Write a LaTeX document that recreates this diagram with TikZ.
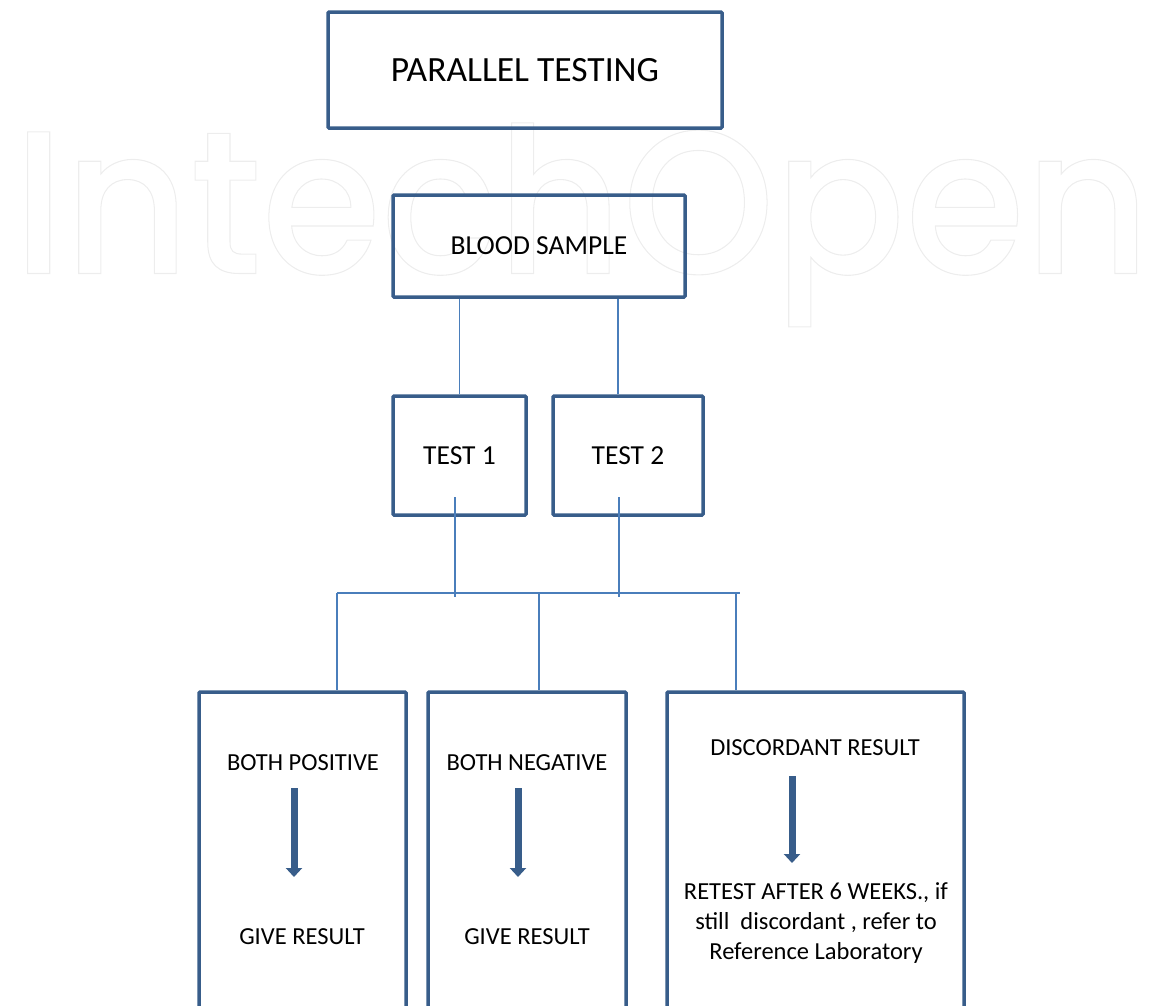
\documentclass[tikz,border=0pt]{standalone}
\usepackage{fontspec}
\usepackage{graphicx}
\setmainfont{Carlito}
\newfontfamily\wmfont{Poppins Medium}
\usetikzlibrary{arrows.meta}
\definecolor{boxblue}{HTML}{385D8A}
\definecolor{lineblue}{HTML}{4A7EBB}
\definecolor{wmgray}{HTML}{EDEDED}
\begin{document}
\begin{tikzpicture}[x=1pt,y=-1pt,
  box/.style={draw=boxblue, line width=3.5pt, inner sep=0pt, rounded corners=1pt},
  conn/.style={draw=lineblue, line width=1.6pt},
  lbl/.style={font=\fontsize{27.5}{30}\selectfont, text=black, inner sep=0pt, align=center},
  slbl/.style={font=\fontsize{24.5}{30}\selectfont, text=black, inner sep=0pt, align=center},
  blockarrow/.style={draw=boxblue, line width=7pt, -{Triangle[width=16pt,length=9pt]}}
]
\useasboundingbox (0,0) rectangle (1151,1005);
\clip (0,0) rectangle (1151,1005);
% watermark
\node[anchor=south west, text=wmgray, inner sep=0pt] (wm) at (13,327)
  {\resizebox*{1137pt}{204pt}{\wmfont\fontsize{226}{226}\selectfont\special{pdf:literal 1 Tr 1.2 w 0.93 G}IntechOpen\special{pdf:literal 0 Tr}}};
% boxes
\node[box, lbl, font=\fontsize{35.5}{36}\selectfont, minimum width=394pt, minimum height=116pt] (title) at (525,70) {PARALLEL TESTING};
\node[box, lbl, minimum width=292pt, minimum height=102pt] (bs) at (539,246) {BLOOD SAMPLE};
\node[box, lbl, minimum width=133pt, minimum height=119pt] (t1) at (459.5,455.5) {TEST 1};
\node[box, lbl, minimum width=150pt, minimum height=119pt] (t2) at (628,455.5) {TEST 2};
\node[box, minimum width=207pt, minimum height=338pt] (b1) at (302.5,861) {};
\node[box, minimum width=198pt, minimum height=338pt] (b2) at (527,861) {};
\node[box, minimum width=297pt, minimum height=338pt] (b3) at (815.5,861) {};
% texts in bottom boxes
\node[slbl] (bp) at (303,763) {BOTH POSITIVE};
\node[slbl] (bpr) at (302,937) {GIVE RESULT};
\node[slbl] (bn) at (527,763) {BOTH NEGATIVE};
\node[slbl] (bnr) at (527,937) {GIVE RESULT};
\node[slbl] (dr) at (815,748) {DISCORDANT RESULT};
\node[slbl] (rt) at (816,923) {RETEST AFTER 6 WEEKS., if\\still\ \ discordant , refer to\\Reference Laboratory};
% connectors
\coordinate (t1in) at (455,497);
\coordinate (t2in) at (619,497);
\coordinate (busL) at (337,593);
\coordinate (busM) at (539,593);
\coordinate (busR3) at (736,593);
\coordinate (busR) at (740,593);
\draw[conn] (t1.north) -- (t1.north |- bs.south);
\draw[conn] ([xshift=-10pt]t2.north) -- ([xshift=-10pt]t2.north |- bs.south);
\draw[conn] (t1in) -- ([yshift=-4pt]t1in |- busL);
\draw[conn] (t2in) -- ([yshift=-4pt]t2in |- busL);
\draw[conn] (busL) -- (busR);
\draw[conn] (busL) -- (busL |- b1.north);
\draw[conn] (busM) -- (busM |- b2.north);
\draw[conn] (busR3) -- (busR3 |- b3.north);
% block arrows
\coordinate (a1s) at (294,788); \coordinate (a1e) at (294,877);
\coordinate (a2s) at (518,788); \coordinate (a2e) at (518,877);
\coordinate (a3s) at (792,776); \coordinate (a3e) at (792,863);
\draw[blockarrow] (a1s) -- (a1e);
\draw[blockarrow] (a2s) -- (a2e);
\draw[blockarrow] (a3s) -- (a3e);
\end{tikzpicture}
\end{document}
